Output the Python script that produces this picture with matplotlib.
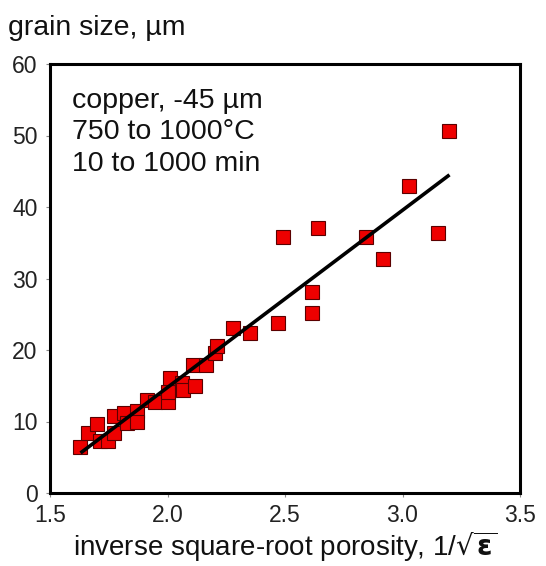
import matplotlib
matplotlib.use("Agg")
import matplotlib.pyplot as plt

plt.rcParams['font.family'] = ['Liberation Sans', 'DejaVu Sans']
plt.rcParams['mathtext.fontset'] = 'dejavusans'

# inverse square-root porosity vs grain size (um)
porosity_inv = [1.628, 1.662, 1.700, 1.713, 1.747, 1.772, 1.772, 1.815, 1.828, 1.870,
                1.870, 1.913, 1.947, 2.002, 2.002, 2.011, 2.062, 2.066, 2.117, 2.109,
                2.164, 2.202, 2.211, 2.279, 2.351, 2.470, 2.491, 2.615, 2.615, 2.640,
                2.845, 2.917, 3.028, 3.151, 3.198]
grain_size = [6.4, 8.4, 9.7, 7.3, 7.3, 10.8, 8.4, 11.2, 9.8, 11.5,
              9.9, 13.0, 12.7, 12.7, 14.1, 16.1, 15.4, 14.4, 15.0, 17.9,
              17.9, 19.6, 20.6, 23.1, 22.4, 23.8, 35.8, 28.1, 25.2, 37.1,
              35.8, 32.7, 42.9, 36.4, 50.6]

# linear fit line
fit_x = [1.63, 3.20]
fit_y = [5.6, 44.5]

xticks = [1.5, 2.0, 2.5, 3.0, 3.5]
yticks = [0, 10, 20, 30, 40, 50, 60]

fig = plt.figure(figsize=(5.46, 5.66), dpi=100)
ax = fig.add_axes([50/546, 1 - 493/566, 470/546, 429/566])

ax.plot(fit_x, fit_y, color='black', lw=2.6, solid_capstyle='butt', zorder=3)
ax.plot(porosity_inv, grain_size, ls='none', marker='s', markersize=9.5,
        markerfacecolor='#ee0000', markeredgecolor='#5a0000', markeredgewidth=0.8,
        zorder=2)

ax.set_xlim(1.5, 3.5)
ax.set_ylim(0, 60)
ax.set_xticks(xticks)
ax.set_xticklabels(['%.1f' % t for t in xticks])
ax.set_yticks(yticks)
ax.set_yticklabels([str(t) for t in yticks])
ax.tick_params(direction='out', length=3, width=0.8, colors='#888888',
               labelcolor='#222222', labelsize=16.5)
ax.tick_params(axis='x', pad=5)
ax.tick_params(axis='y', pad=6)

for s in ax.spines.values():
    s.set_linewidth(2.2)
    s.set_color('black')

ax.text(22/470, (493 - 88)/429, 'copper, -45 µm\n750 to 1000°C\n10 to 1000 min',
        transform=ax.transAxes, ha='left', va='top', fontsize=20.5,
        color='#111111', linespacing=1.27)

fig.text(8/546, 1 - 28/566, 'grain size, µm', ha='left', va='center',
         fontsize=20.5, color='#111111')
fig.text(285/546, 1 - 547/566, r'inverse square-root porosity, 1/$\sqrt{\mathbf{\varepsilon}}$',
         ha='center', va='center', fontsize=20, color='#111111')

fig.savefig('out.png', dpi=100)
